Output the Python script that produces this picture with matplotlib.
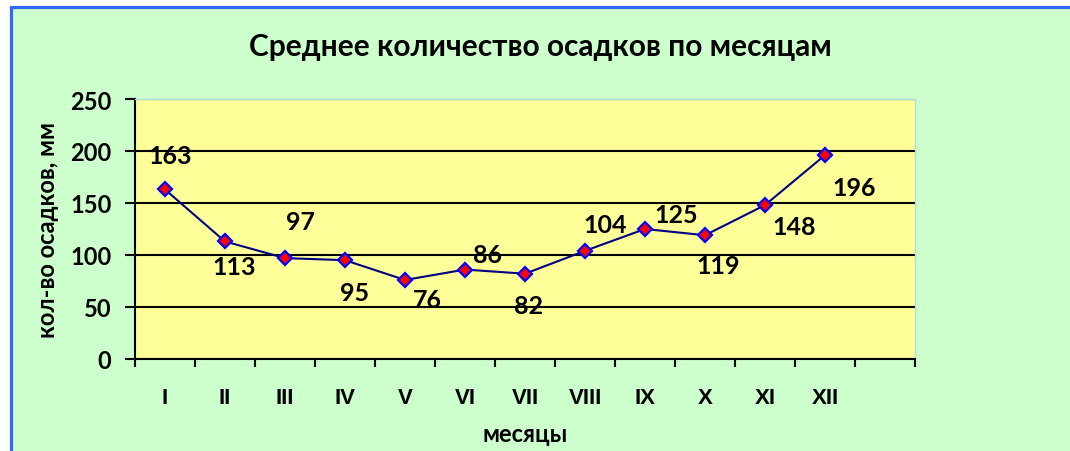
import matplotlib.pyplot as plt
from matplotlib.patches import Rectangle

months = ["I", "II", "III", "IV", "V", "VI", "VII", "VIII", "IX", "X", "XI", "XII"]
rain = [163, 113, 97, 95, 76, 86, 82, 104, 125, 119, 148, 196]

# where each value label sits relative to its marker, in pixels
label_offsets = [(5, 34), (9, -25), (16, 37), (10, -32), (22, -20), (23, 15),
                 (4, -32), (20, 26), (31, 14), (13, -30), (29, -21), (29, -32)]

W, H = 1070, 452
fig = plt.figure(figsize=(W / 100, H / 100), dpi=100, facecolor="white")

# green chart area with a blue frame (cut off on the right and bottom)
fig.patches.append(Rectangle((10.5 / W, -0.1), 1.2, (H - 7.5) / H + 0.1,
                             transform=fig.transFigure, facecolor="#CCFFCC",
                             edgecolor="#3366FF", linewidth=2.3, zorder=-1))

ax = fig.add_axes([135 / W, (H - 360) / H, 780 / W, 260 / H])
ax.set_facecolor("#FFFF99")

x = list(range(len(months)))
ax.plot(x, rain, color="#000080", linewidth=1.5, marker="D", markersize=7.5,
        markerfacecolor="red", markeredgecolor="#0000FF", markeredgewidth=1.6,
        zorder=3)

for xi, v, (dx, dy) in zip(x, rain, label_offsets):
    ax.annotate(str(v), (xi, v), xytext=(dx, dy), textcoords="offset pixels",
                ha="center", va="center", fontsize=18, fontweight="bold",
                family="Lato", color="black", zorder=4)

ax.set_xlim(-0.5, len(months) + 0.5)
ax.set_ylim(0, 250)
ax.set_yticks(range(0, 251, 50))
ax.yaxis.grid(True, color="black", linewidth=1.5)
ax.set_axisbelow(True)

ax.set_xticks([i - 0.5 for i in range(len(months) + 2)])
ax.set_xticklabels([])
ax.set_xticks(x, minor=True)
ax.set_xticklabels(months, minor=True, fontsize=16, fontweight="bold",
                   family="Liberation Sans")
ax.tick_params(axis="x", which="major", direction="out", length=6, width=1.5)
ax.tick_params(axis="x", which="minor", length=0, pad=20)
ax.tick_params(axis="y", direction="out", length=7, width=1.5, pad=10)
for t in ax.get_yticklabels():
    t.set_fontsize(17)
    t.set_fontweight("bold")
    t.set_family("Lato")

for side in ["left", "bottom"]:
    ax.spines[side].set_color("black")
    ax.spines[side].set_linewidth(1.5)
for side in ["top", "right"]:
    ax.spines[side].set_color("#B0DDE0")
    ax.spines[side].set_linewidth(1)

fig.text(540 / W, 1 - 47 / H, "Среднее количество осадков по месяцам",
         ha="center", va="center", fontsize=21.5, fontweight="bold", family="Lato")
fig.text(525 / W, 1 - 435 / H, "месяцы", ha="center", va="center",
         fontsize=17, fontweight="bold", family="Lato")
fig.text(48 / W, 1 - 230 / H, "кол-во осадков, мм", ha="center", va="center",
         rotation=90, fontsize=17, fontweight="bold", family="Lato")

fig.savefig("out.png", dpi=100, facecolor=fig.get_facecolor())
